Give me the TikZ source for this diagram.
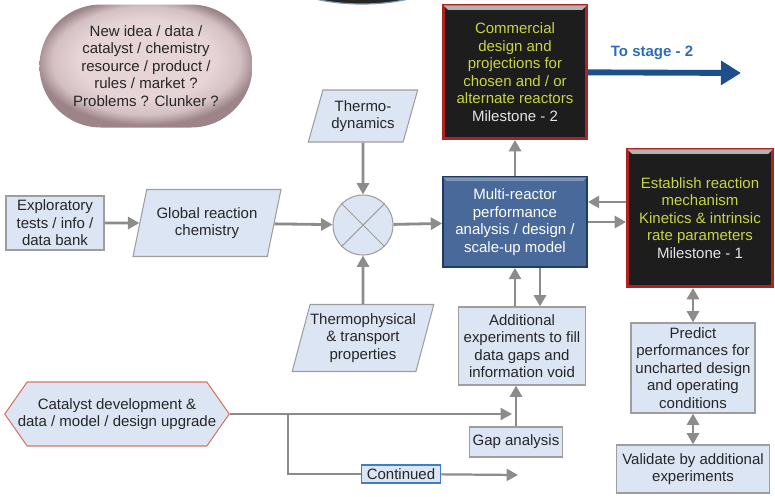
\documentclass[tikz,border=0pt]{standalone}
\usepackage{fontspec}
\setmainfont{Liberation Sans}
\usetikzlibrary{arrows.meta,shapes.geometric,shapes.misc,shapes.symbols}
\definecolor{boxfill}{HTML}{DCE5F4}
\definecolor{boxline}{HTML}{9E9E9E}
\definecolor{flowgray}{HTML}{8C8C8C}
\definecolor{navy}{HTML}{1F3B61}
\definecolor{multiblue}{HTML}{48699A}
\definecolor{darkred}{HTML}{B0221F}
\definecolor{darkfill}{HTML}{1D1D1D}
\definecolor{lime}{HTML}{C8D545}
\definecolor{stageblue}{HTML}{1F4E8D}
\definecolor{stagetext}{HTML}{2C6DB8}
\definecolor{hexline}{HTML}{D9745C}
\definecolor{contline}{HTML}{3C7FC6}
\definecolor{pillin}{HTML}{E6D4D7}
\definecolor{pillout}{HTML}{9C8489}
\pgfdeclareradialshading{pillshade}{\pgfpoint{0bp}{4bp}}{color(0bp)=(pillin); color(16bp)=(pillin); color(22bp)=(pillin!75!pillout); color(26bp)=(pillout); color(50bp)=(pillout)}

\begin{document}
\begin{tikzpicture}[x=0.03cm, y=-0.03cm,
    every node/.style={font=\fontsize{12.8}{15}\selectfont, align=center, text=black!85, inner sep=0pt},
    box/.style={draw=boxline, fill=boxfill, line width=0.9pt},
    dataslant/.style={box, trapezium, trapezium left angle=70, trapezium right angle=110, trapezium stretches=true},
    milestone/.style={draw=darkred, fill=darkfill, line width=2.5pt, text=lime},
    flow/.style={draw=flowgray, line width=2.4pt, -{Triangle[length=0.34cm,width=0.36cm]}},
    twoway/.style={flow, {Triangle[length=0.34cm,width=0.36cm]}-{Triangle[length=0.34cm,width=0.36cm]}},
    feed/.style={draw=flowgray, line width=1.9pt}]
    \useasboundingbox (0,0) rectangle (775,496);
    \fill[black!85, draw=stageblue!60, line width=1pt] (362,-26) ellipse [x radius=2.52cm, y radius=0.9cm];

    \node(idea) at (146,66) [rounded rectangle, minimum width=6.39cm, minimum height=3.69cm, shading=pillshade] {New idea / data /\\catalyst / chemistry\\resource / product /\\rules / market ?\\Problems ? Clunker ?};
    \node(explore) at (55,223) [box, minimum width=2.94cm, minimum height=1.62cm] {Exploratory\\tests / info /\\data bank};
    \node(globalchem) at (207,223) [dataslant, minimum width=4.44cm, minimum height=2.01cm] {Global reaction\\chemistry};
    \node(thermo) at (363,116) [dataslant, minimum width=3.3cm, minimum height=1.56cm] {Thermo-\\dynamics};
    \node(mixer) at (363,225) [box, circle, minimum size=1.8cm] {};
    \draw[boxline, line width=0.9pt] (mixer.north west) -- (mixer.south east) (mixer.north east) -- (mixer.south west);
    \node(thermophys) at (363,338) [dataslant, minimum width=4.17cm, minimum height=2.01cm] {Thermophysical\\\& transport\\properties};
    \node(multi) at (515,222) [draw=navy, fill=multiblue, line width=1.5pt, text=white, minimum width=4.32cm, minimum height=2.7cm] {Multi-reactor\\performance\\analysis / design /\\scale-up model};
    \node(commercial) at (515,72) [milestone, minimum width=4.29cm, minimum height=3.99cm] {Commercial\\design and\\projections for\\chosen and / or\\alternate reactors\\\textcolor{white!90!black}{Milestone - 2}};
    \node(establish) at (700,218) [milestone, minimum width=4.35cm, minimum height=4.11cm] {Establish reaction\\mechanism\\Kinetics \& intrinsic\\rate parameters\\\textcolor{white!90!black}{Milestone - 1}};
    \node(additional) at (522,346) [box, minimum width=3.81cm, minimum height=2.34cm] {Additional\\experiments to fill\\data gaps and\\information void};
    \node(gap) at (516,442) [box, minimum width=2.79cm, minimum height=0.9cm] {Gap analysis};
    \node(predict) at (693,368) [box, minimum width=3.72cm, minimum height=2.7cm] {Predict\\performances for\\uncharted design\\and operating\\conditions};
    \node(validate) at (693,469) [box, minimum width=4.59cm, minimum height=1.44cm] {Validate by additional\\experiments};
    \node(catalyst) at (117,414) [box, draw=hexline, signal, signal to=west and east, signal pointer angle=110, inner xsep=-8pt, minimum width=6.6cm, minimum height=1.92cm] {Catalyst development \&\\data / model / design upgrade};
    \node(continued) at (401,474) [box, draw=contline, line width=1.4pt, minimum width=2.37cm, minimum height=0.54cm] {Continued};
    \node(stagelabel) at (652,53) [text=stagetext, font=\bfseries\fontsize{12.8}{15}\selectfont] {To stage - 2};
    \coordinate(stage) at (741,73);
    \coordinate(gapin) at (512,414);
    \coordinate(branch) at (288,414);
    \coordinate(contout) at (518,475);
    \coordinate(down) at ([xshift=0.75cm]multi.south);

    \foreach \b in {commercial, establish}
        \fill[gray!60] ([shift={(1.2pt,-1.2pt)}]\b.north west) -- ([shift={(-1.2pt,-1.2pt)}]\b.north east) -- ([shift={(-5pt,-5pt)}]\b.north east) -- ([shift={(5pt,-5pt)}]\b.north west) -- cycle;
    \fill[white, opacity=0.3] ([shift={(0.75pt,-0.75pt)}]multi.north west) -- ([shift={(-0.75pt,-0.75pt)}]multi.north east) -- ([shift={(-4pt,-4pt)}]multi.north east) -- ([shift={(4pt,-4pt)}]multi.north west) -- cycle;

    \draw[flow] (explore) -- (globalchem);
    \draw[flow] (globalchem) -- (mixer);
    \draw[flow] (thermo) -- (mixer);
    \draw[flow] (thermophys) -- (mixer);
    \draw[flow] (mixer) -- (multi);
    \draw[flow] (multi) -- (commercial);
    \draw[stageblue, line width=5pt, -{Triangle[length=0.6cm,width=0.7cm]}] (commercial) -- (stage);
    \draw[flow] ([yshift=0.48cm]establish.west) -- ([yshift=0.48cm]establish.west -| multi.east);
    \draw[flow] (multi.east) -- (multi.east -| establish.west);
    \draw[flow] (additional.north -| multi.south) -- (multi.south);
    \draw[flow] (down) -- (down |- additional.north);
    \draw[flow] (gap) -- (gap |- additional.south);
    \draw[twoway] (predict.north) -- (predict.north |- establish.south);
    \draw[twoway] (predict) -- (validate);
    \draw[feed, -{Triangle[length=0.34cm,width=0.36cm]}] (catalyst.east) -- (gapin);
    \draw[feed] (branch) |- (continued);
    \draw[feed, -{Triangle[length=0.34cm,width=0.36cm]}] (continued) -- (contout);
\end{tikzpicture}
\end{document}
